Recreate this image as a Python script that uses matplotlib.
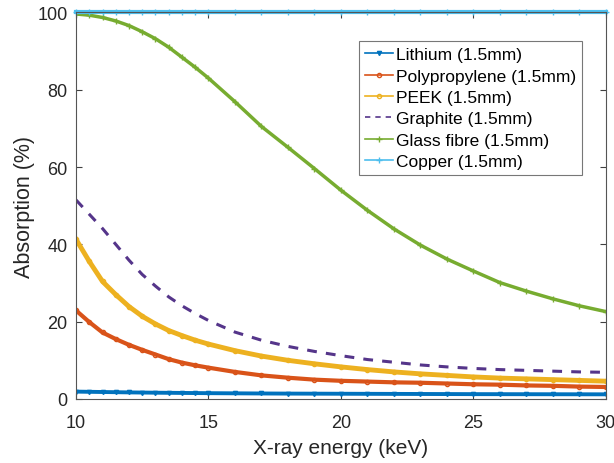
import matplotlib
matplotlib.use("Agg")
import matplotlib.pyplot as plt

plt.rcParams['font.family'] = ['Liberation Sans', 'DejaVu Sans']

energy = [10, 10.5, 11, 11.5, 12, 12.5, 13, 13.5, 14, 14.5, 15, 16, 17, 18, 19, 20,
          21, 22, 23, 24, 25, 26, 27, 28, 29, 30]

lithium = [1.9, 1.85, 1.8, 1.75, 1.7, 1.66, 1.62, 1.59, 1.56, 1.53, 1.5, 1.46, 1.42, 1.39, 1.37, 1.35,
           1.33, 1.31, 1.29, 1.27, 1.25, 1.24, 1.23, 1.22, 1.21, 1.2]
polypropylene = [22.9, 19.9, 17.2, 15.5, 14.0, 12.7, 11.5, 10.3, 9.4, 8.7, 8.1, 7.0, 6.1, 5.5, 5.0, 4.7,
                 4.5, 4.3, 4.2, 4.0, 3.8, 3.7, 3.5, 3.4, 3.2, 3.1]
peek = [41.3, 35.6, 30.4, 27.0, 23.9, 21.4, 19.4, 17.7, 16.4, 15.2, 14.2, 12.5, 11.1, 10.0, 9.1, 8.3,
        7.6, 7.0, 6.5, 6.1, 5.7, 5.4, 5.2, 5.0, 4.8, 4.6]
graphite = [51.5, 47.8, 44.1, 40.0, 35.9, 32.2, 29.2, 26.4, 24.1, 22.1, 20.3, 17.3, 15.2, 13.6, 12.3, 11.2,
            10.2, 9.5, 8.8, 8.3, 7.9, 7.6, 7.4, 7.2, 7.0, 6.9]
glass_fibre = [99.6, 99.3, 98.7, 97.8, 96.6, 95.0, 93.2, 91.0, 88.4, 85.8, 83.0, 76.9, 70.5, 65.1, 59.6, 54.0,
               48.8, 44.0, 39.8, 36.2, 33.1, 30.1, 27.9, 25.9, 24.1, 22.6]
copper = [100.0] * len(energy)

labels = ["Lithium (1.5mm)", "Polypropylene (1.5mm)", "PEEK (1.5mm)",
          "Graphite (1.5mm)", "Glass fibre (1.5mm)", "Copper (1.5mm)"]
colors = ["#0072BD", "#D95319", "#EDB120", "#55358A", "#77AC30", "#4DBEEE"]

fig = plt.figure(figsize=(6.14, 4.64), dpi=100)
ax = fig.add_axes([0.1238, 0.138, 0.863, 0.833])

ax.plot(energy, lithium, color=colors[0], marker='v', ms=3, lw=2.8, label=labels[0])
ax.plot(energy, polypropylene, color=colors[1], marker='o', ms=3, lw=3, mfc='none', label=labels[1])
ax.plot(energy, peek, color=colors[2], marker='o', ms=3, lw=3.5, mfc='none', label=labels[2])
ax.plot(energy, graphite, color=colors[3], ls=(0, (3.2, 3.0)), lw=2.2, label=labels[3])
ax.plot(energy, glass_fibre, color=colors[4], marker='+', ms=4, lw=2.5, label=labels[4])
ax.plot(energy, copper, color=colors[5], marker='+', ms=4, lw=3, label=labels[5], clip_on=False)

ax.set_xlim(10, 30)
ax.set_ylim(0, 100)
ax.set_xticks([10, 15, 20, 25, 30])
ax.set_yticks([0, 20, 40, 60, 80, 100])
ax.tick_params(direction='in', top=True, right=True, labelsize=13, length=4,
               color='#404040', labelcolor='#262626')
ax.tick_params(axis='x', pad=11)
ax.tick_params(axis='y', pad=6)
for s in ax.spines.values():
    s.set_color('#555555')
    s.set_linewidth(0.8)

ax.set_xlabel("X-ray energy (keV)", fontsize=15, color='#262626', labelpad=5)
ax.set_ylabel("Absorption (%)", fontsize=15.5, color='#262626', labelpad=2)

leg = ax.legend(loc='upper right', bbox_to_anchor=(0.955, 0.926), fontsize=12.5,
                frameon=True, fancybox=False, edgecolor='#555555', handlelength=1.6,
                handletextpad=0.15, labelspacing=0.36, borderpad=0.35, borderaxespad=0)
leg.get_frame().set_linewidth(0.8)
for h in leg.get_lines():
    h.set_linewidth(1.2)

fig.savefig("out.png", dpi=100)
